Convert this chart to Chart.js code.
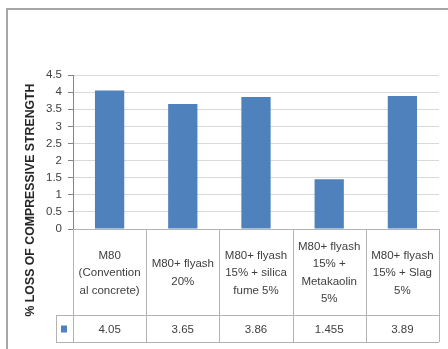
<!DOCTYPE html>
<html>
<head>
<meta charset="utf-8">
<script src="https://cdn.jsdelivr.net/npm/chart.js@4/dist/chart.umd.min.js"></script>
<style>
  html, body { margin: 0; padding: 0; background: #ffffff; }
  #wrap { width: 448px; height: 349px; position: relative; }
</style>
</head>
<body>
<div id="wrap"><canvas id="c" width="448" height="349"></canvas></div>
<script>
// Mix categories (one entry per table column, already split into lines)
const categories = [
  ["M80", "(Convention", "al concrete)"],
  ["M80+ flyash", "20%"],
  ["M80+ flyash", "15% + silica", "fume 5%"],
  ["M80+ flyash", "15% +", "Metakaolin", "5%"],
  ["M80+ flyash", "15% + Slag", "5%"]
];
// % loss of compressive strength for each mix
const lossValues = [4.05, 3.65, 3.86, 1.455, 3.89];
// Value axis range
const yMin = 0;
const yMax = 4.5;
const yStep = 0.5;

const yTitle = "% LOSS OF COMPRESSIVE STRENGTH";
const barColor = "#4f81bd";
const textColor = "#404040";
const lineColor = "#b3b3b3";
const baseFont = "'Liberation Sans', Arial, sans-serif";

// Frame, axis title and data table drawn around the bars
const tablePlugin = {
  id: "dataTable",
  beforeDraw(chart) {
    const ctx = chart.ctx;
    ctx.save();
    ctx.fillStyle = "#ffffff";
    ctx.fillRect(0, 0, chart.width, chart.height);
    ctx.strokeStyle = "#a6a6a6";
    ctx.lineWidth = 2;
    ctx.strokeRect(7, 9, chart.width + 20, chart.height + 20);
    ctx.restore();
  },
  afterDraw(chart) {
    const ctx = chart.ctx;
    const xs = chart.scales.x;
    const area = chart.chartArea;
    const n = categories.length;
    const colW = (area.right - area.left) / n;
    const top = area.bottom;
    const rowSplit = top + 86;
    const bottom = top + 113;
    const keyLeft = area.left - 17;

    ctx.save();
    // grid of the table
    ctx.strokeStyle = lineColor;
    ctx.lineWidth = 1;
    ctx.beginPath();
    ctx.moveTo(area.left, top + 0.5);
    ctx.lineTo(area.right, top + 0.5);
    ctx.moveTo(keyLeft, rowSplit + 0.5);
    ctx.lineTo(area.right, rowSplit + 0.5);
    ctx.moveTo(keyLeft, bottom + 0.5);
    ctx.lineTo(area.right, bottom + 0.5);
    ctx.moveTo(keyLeft + 0.5, rowSplit);
    ctx.lineTo(keyLeft + 0.5, bottom);
    for (let i = 0; i <= n; i++) {
      const x = Math.round(area.left + i * colW) + 0.5;
      ctx.moveTo(x, top);
      ctx.lineTo(x, bottom);
    }
    ctx.stroke();

    // axis line along the value axis
    ctx.strokeStyle = "#868686";
    ctx.beginPath();
    ctx.moveTo(Math.round(area.left) + 0.5, area.top);
    ctx.lineTo(Math.round(area.left) + 0.5, top);
    ctx.stroke();

    // category labels
    ctx.fillStyle = textColor;
    ctx.font = "11.5px " + baseFont;
    ctx.textAlign = "center";
    ctx.textBaseline = "middle";
    const lineH = 17.5;
    const midCat = (top + rowSplit) / 2 + 1;
    categories.forEach((lines, i) => {
      const cx = xs.getPixelForValue(i);
      const y0 = midCat - (lines.length - 1) * lineH / 2;
      lines.forEach((t, j) => ctx.fillText(t, cx, y0 + j * lineH));
    });

    // value row
    const midVal = (rowSplit + bottom) / 2 + 1;
    lossValues.forEach((v, i) => {
      ctx.fillText(String(v), xs.getPixelForValue(i), midVal);
    });

    // legend key
    ctx.fillStyle = barColor;
    ctx.fillRect(keyLeft + 5, midVal - 4, 6, 7);

    // value axis title
    ctx.fillStyle = "#262626";
    ctx.font = "bold 12.3px " + baseFont;
    ctx.translate(31, 200);
    ctx.rotate(-Math.PI / 2);
    ctx.fillText(yTitle, 0, 0);
    ctx.restore();
  }
};

new Chart(document.getElementById("c"), {
  type: "bar",
  data: {
    labels: categories.map(l => l.join(" ")),
    datasets: [{
      data: lossValues,
      backgroundColor: barColor,
      borderWidth: 0,
      barPercentage: 0.4,
      categoryPercentage: 1.0
    }]
  },
  options: {
    responsive: false,
    animation: false,
    devicePixelRatio: 1,
    layout: { padding: { top: 75, right: 9, bottom: 120, left: 0 } },
    plugins: {
      legend: { display: false },
      tooltip: { enabled: false }
    },
    scales: {
      x: {
        display: false
      },
      y: {
        min: yMin,
        max: yMax,
        afterFit(scale) { scale.width = 73; },
        ticks: {
          stepSize: yStep,
          padding: 6,
          color: textColor,
          font: { family: baseFont, size: 11.5 },
          callback: (value) => String(value)
        },
        grid: {
          color: "#d9d9d9",
          tickColor: "#868686",
          tickLength: 5,
          drawTicks: true
        },
        border: { display: false }
      }
    }
  },
  plugins: [tablePlugin]
});
</script>
</body>
</html>
